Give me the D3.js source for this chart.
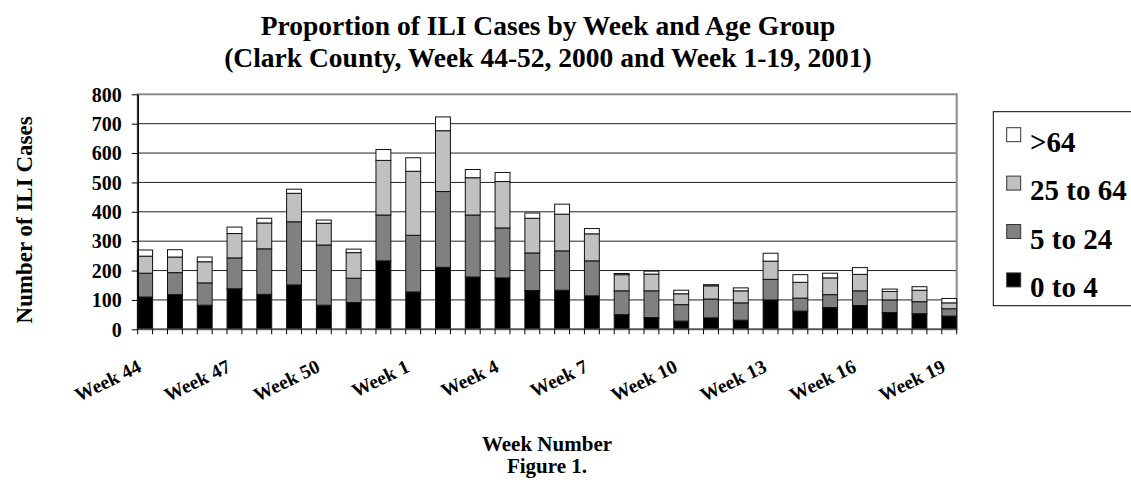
<!DOCTYPE html>
<html>
<head>
<meta charset="utf-8">
<script src="https://cdn.jsdelivr.net/npm/d3@7/dist/d3.min.js"></script>
<style>
  html, body { margin: 0; padding: 0; background: #fff; }
  svg text { font-family: "Liberation Serif", "Times New Roman", serif; font-weight: bold; fill: #000; }
</style>
</head>
<body>
<svg id="chart" width="1131" height="484"></svg>
<script>
const weeks = ["Week 44","Week 45","Week 46","Week 47","Week 48","Week 49","Week 50","Week 51","Week 52",
  "Week 1","Week 2","Week 3","Week 4","Week 5","Week 6","Week 7","Week 8","Week 9","Week 10",
  "Week 11","Week 12","Week 13","Week 14","Week 15","Week 16","Week 17","Week 18","Week 19"];
const shownLabels = ["Week 44","Week 47","Week 50","Week 1","Week 4","Week 7","Week 10","Week 13","Week 16","Week 19"];
const age0to4   = [110,118,82,138,119,151,82,91,233,127,211,178,175,132,133,114,50,40,28,39,31,100,62,74,81,57,53,45];
const age5to24  = [81,75,76,105,155,215,205,83,156,193,258,211,170,128,134,119,81,91,56,64,59,70,44,44,50,43,41,25];
const age25to64 = [58,53,72,83,88,97,74,87,186,218,207,127,158,118,125,92,55,57,37,45,41,62,54,57,56,29,39,20];
const ageOver64 = [21,25,16,22,16,14,11,12,37,46,47,28,31,18,34,18,4,10,12,4,10,27,26,16,23,8,12,15];
const seriesNames = ["0 to 4","5 to 24","25 to 64",">64"];
const seriesColors = ["#000000","#808080","#c0c0c0","#ffffff"];
const yTicks = [0,100,200,300,400,500,600,700,800];

const svg = d3.select("#chart");
const pLeft = 137.7, pRight = 956.7, pTop = 94.3, pBottom = 329.3;

const rows = weeks.map((w, i) => ({week: w, "0 to 4": age0to4[i], "5 to 24": age5to24[i], "25 to 64": age25to64[i], ">64": ageOver64[i]}));
const stacked = d3.stack().keys(seriesNames)(rows);

const x = d3.scaleBand().domain(weeks).range([pLeft, pRight]).paddingInner(0.5).paddingOuter(0);
const y = d3.scaleLinear().domain([0, 800]).range([pBottom, pTop]);
const color = d3.scaleOrdinal().domain(seriesNames).range(seriesColors);

// gridlines
svg.append("g").selectAll("line").data(yTicks.filter(t => t > 0 && t < 800)).join("line")
  .attr("x1", pLeft).attr("x2", pRight).attr("y1", d => y(d)).attr("y2", d => y(d))
  .attr("stroke", "#222").attr("stroke-width", 1);

// plot border
svg.append("rect").attr("x", pLeft).attr("y", pTop).attr("width", pRight - pLeft).attr("height", pBottom - pTop)
  .attr("fill", "none").attr("stroke", "#8c8c8c").attr("stroke-width", 2);

// bars
svg.append("g").selectAll("g").data(stacked).join("g")
  .attr("fill", d => color(d.key))
  .selectAll("rect").data(d => d).join("rect")
  .attr("x", d => x(d.data.week))
  .attr("width", x.bandwidth())
  .attr("y", d => y(d[1]))
  .attr("height", d => y(d[0]) - y(d[1]))
  .attr("stroke", "#111").attr("stroke-width", 1);

// y axis
const yAxis = d3.axisLeft(y).tickValues(yTicks).tickSize(6).tickSizeOuter(0);
const yg = svg.append("g").attr("transform", `translate(${pLeft},0)`).call(yAxis);
yg.select(".domain").attr("stroke", "#000").attr("stroke-width", 1.5);
yg.selectAll(".tick line").attr("stroke", "#000");
yg.selectAll(".tick text").attr("x", -16).attr("dy", "0.34em")
  .style("font-size", "20px").style("font-family", "'Liberation Serif', serif").style("font-weight", "bold").attr("fill", "#000");

// x axis line and ticks at band edges
const edges = [];
weeks.forEach(w => { edges.push(x(w)); edges.push(x(w) + x.bandwidth()); });
svg.append("line").attr("x1", pLeft).attr("x2", pRight).attr("y1", pBottom).attr("y2", pBottom)
  .attr("stroke", "#555").attr("stroke-width", 1.5);
svg.append("g").selectAll("line").data(edges).join("line")
  .attr("x1", d => d).attr("x2", d => d).attr("y1", pBottom).attr("y2", pBottom + 5)
  .attr("stroke", "#000").attr("stroke-width", 1);

// x labels
svg.append("g").selectAll("text").data(shownLabels).join("text")
  .attr("transform", d => `translate(${x(d) + x.bandwidth() / 2 - 2.5},371) rotate(-26)`)
  .attr("text-anchor", "end")
  .style("font-size", "19.5px")
  .text(d => d);

// titles
svg.append("text").attr("x", 548).attr("y", 35).attr("text-anchor", "middle").style("font-size", "27.5px")
  .text("Proportion of ILI Cases by Week and Age Group");
svg.append("text").attr("x", 548).attr("y", 67).attr("text-anchor", "middle").style("font-size", "27.5px")
  .text("(Clark County, Week 44-52, 2000 and Week 1-19, 2001)");
svg.append("text").attr("transform", "translate(31.7,220) rotate(-90)").attr("text-anchor", "middle").style("font-size", "23px")
  .text("Number of ILI Cases");
svg.append("text").attr("x", 547).attr("y", 451).attr("text-anchor", "middle").style("font-size", "21px")
  .text("Week Number");
svg.append("text").attr("x", 547).attr("y", 473).attr("text-anchor", "middle").style("font-size", "21px")
  .text("Figure 1.");

// legend
const lg = svg.append("g");
lg.append("rect").attr("x", 993.3).attr("y", 111.7).attr("width", 160).attr("height", 194)
  .attr("fill", "#fff").attr("stroke", "#000").attr("stroke-width", 1);
const legendOrder = seriesNames.slice().reverse();
const items = lg.selectAll("g").data(legendOrder).join("g")
  .attr("transform", (d, i) => `translate(0,${151.7 + i * 48.4})`);
items.append("rect").attr("x", 1006.7).attr("y", -24).attr("width", 14).attr("height", 14)
  .attr("fill", d => color(d)).attr("stroke", "#333").attr("stroke-width", 1);
items.append("text").attr("x", 1030).attr("y", 0).style("font-size", "29px").text(d => d);
</script>
</body>
</html>
